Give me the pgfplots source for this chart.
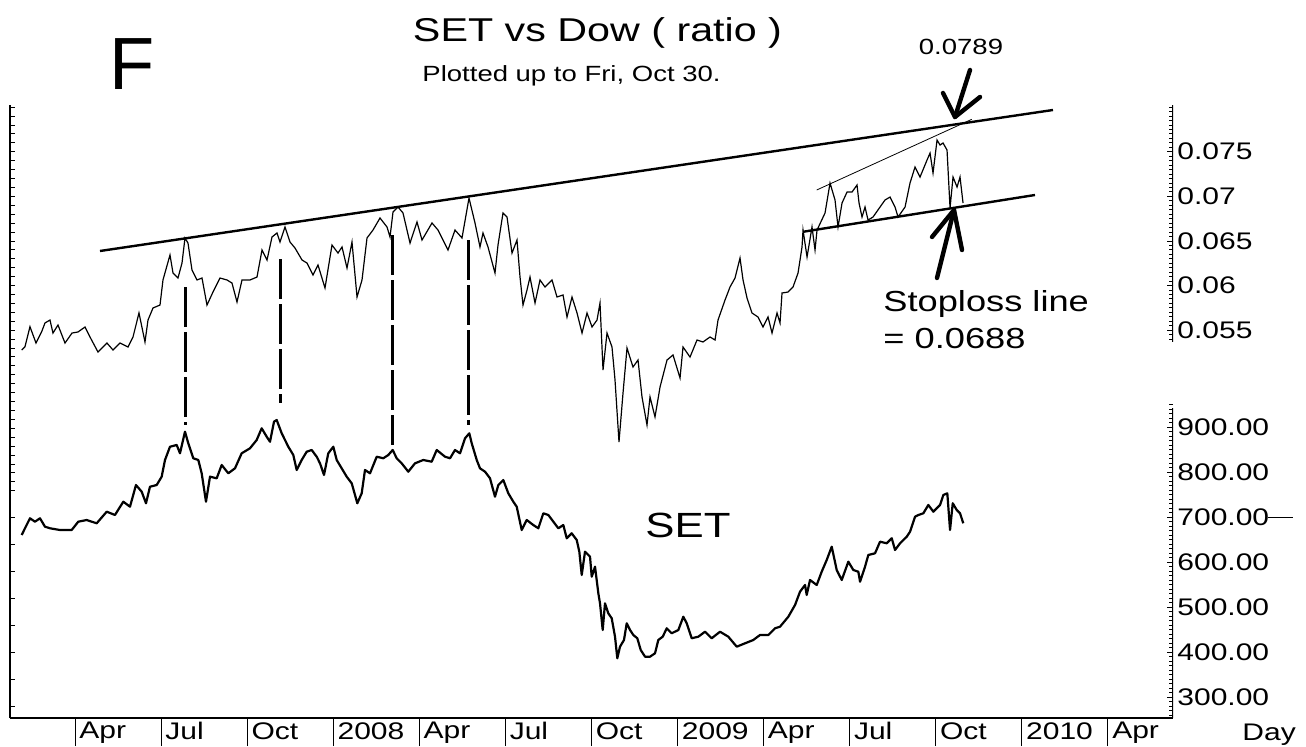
\documentclass[border=0pt]{standalone}
\usepackage{pgfplots}
\pgfplotsset{compat=1.18}
\usepackage{pgfplotstable}
\usepackage{fontspec}
\setmainfont{Liberation Sans}
\newfontfamily\wide{Liberation Sans}[FakeStretch=1.25]

% x = months since 1 Jan 2007, v = SET/Dow ratio
\pgfplotstableread{
m v
1.142 0.05277
1.257 0.05314
1.432 0.05538
1.641 0.05355
1.839 0.05482
1.954 0.05580
2.129 0.05613
2.233 0.05467
2.408 0.05557
2.652 0.05355
2.896 0.05467
3.105 0.05479
3.349 0.05535
3.523 0.05423
3.802 0.05254
4.115 0.05355
4.325 0.05277
4.569 0.05355
4.847 0.05311
5.022 0.05423
5.231 0.05692
5.440 0.05367
5.545 0.05613
5.719 0.05748
5.963 0.05781
6.067 0.06062
6.311 0.06342
6.416 0.06140
6.590 0.06084
6.730 0.06252
6.834 0.06533
6.939 0.06476
7.078 0.06174
7.252 0.06062
7.427 0.06084
7.601 0.05781
7.810 0.05927
8.054 0.06084
8.298 0.06062
8.472 0.06028
8.647 0.05815
8.821 0.06062
9.100 0.06062
9.344 0.06095
9.518 0.06398
9.693 0.06286
9.867 0.06544
10.041 0.06589
10.146 0.06488
10.320 0.06656
10.494 0.06488
10.669 0.06420
10.913 0.06286
11.087 0.06252
11.296 0.06118
11.470 0.06230
11.714 0.05972
11.958 0.06454
12.167 0.06364
12.307 0.06432
12.481 0.06196
12.655 0.06488
12.830 0.05871
13.004 0.06062
13.178 0.06533
13.387 0.06622
13.631 0.06757
13.875 0.06656
13.980 0.06544
14.084 0.06824
14.259 0.06880
14.433 0.06813
14.677 0.06476
14.921 0.06712
15.095 0.06510
15.443 0.06701
15.653 0.06622
16.001 0.06398
16.245 0.06622
16.489 0.06533
16.733 0.06981
16.942 0.06701
17.116 0.06432
17.221 0.06589
17.395 0.06432
17.639 0.06140
17.744 0.06454
17.918 0.06813
18.058 0.06768
18.232 0.06364
18.406 0.06510
18.511 0.06095
18.615 0.05781
18.755 0.05950
18.859 0.06095
19.034 0.05804
19.208 0.06062
19.382 0.05983
19.626 0.06062
19.800 0.05871
20.010 0.05894
20.149 0.05647
20.323 0.05871
20.498 0.05692
20.672 0.05467
20.846 0.05692
21.021 0.05535
21.195 0.05613
21.299 0.05804
21.404 0.05053
21.543 0.05467
21.717 0.05311
21.822 0.04941
21.961 0.04245
22.101 0.04795
22.240 0.05299
22.449 0.05086
22.624 0.05165
22.763 0.04750
22.937 0.04436
23.042 0.04750
23.216 0.04526
23.391 0.04862
23.635 0.05165
23.844 0.05221
24.088 0.04963
24.192 0.05311
24.436 0.05198
24.680 0.05389
24.889 0.05367
25.133 0.05423
25.308 0.05389
25.412 0.05613
25.656 0.05837
25.830 0.05983
26.005 0.06084
26.179 0.06308
26.284 0.06062
26.423 0.05860
26.597 0.05692
26.807 0.05647
26.981 0.05535
27.155 0.05647
27.294 0.05467
27.469 0.05692
27.573 0.05580
27.643 0.05916
27.852 0.05927
28.026 0.05983
28.201 0.06140
28.340 0.06432
28.375 0.06622
28.515 0.06320
28.688 0.06656
28.793 0.06398
28.863 0.06622
29.142 0.06813
29.316 0.07149
29.490 0.06959
29.595 0.06656
29.734 0.06925
29.909 0.07048
30.083 0.07048
30.257 0.07127
30.327 0.06925
30.431 0.06768
30.536 0.06880
30.641 0.06734
30.815 0.06768
31.059 0.06880
31.233 0.06959
31.408 0.06992
31.582 0.06880
31.687 0.06768
31.931 0.06880
32.104 0.07149
32.279 0.07329
32.453 0.07216
32.697 0.07407
32.802 0.07485
32.906 0.07261
33.046 0.07631
33.150 0.07575
33.255 0.07598
33.394 0.07519
33.499 0.06869
33.603 0.07216
33.743 0.07104
33.847 0.07216
33.952 0.06925
}\ratiotab

% x = months since 1 Jan 2007, s = SET index
\pgfplotstableread{
m s
1.142 660.0
1.257 674.9
1.432 697.1
1.606 689.6
1.780 697.1
1.954 678.5
2.129 674.9
2.477 671.1
2.885 671.1
3.115 689.6
3.408 693.3
3.757 686.0
4.105 711.8
4.394 704.5
4.684 734.0
4.917 722.9
5.126 771.1
5.325 756.2
5.475 730.5
5.614 767.3
5.848 771.1
6.022 789.6
6.137 826.7
6.311 856.2
6.545 860.0
6.660 841.6
6.834 889.6
6.949 863.8
7.124 830.5
7.298 826.7
7.416 797.1
7.566 734.0
7.706 789.6
7.939 786.0
8.113 815.6
8.344 797.1
8.577 808.2
8.810 841.6
9.100 852.7
9.333 871.1
9.507 897.1
9.682 878.4
9.797 867.3
9.936 911.8
10.030 915.6
10.205 886.0
10.435 856.2
10.609 837.8
10.727 804.5
10.902 826.7
11.076 845.1
11.250 848.9
11.425 834.0
11.540 819.3
11.679 793.4
11.829 841.6
12.003 856.2
12.122 826.7
12.296 808.2
12.470 789.6
12.645 774.9
12.760 748.9
12.840 730.5
12.993 752.7
13.108 804.5
13.283 797.1
13.516 834.0
13.746 830.5
13.920 837.8
14.073 848.9
14.213 830.5
14.387 819.3
14.617 800.7
14.851 819.3
15.140 826.7
15.433 822.9
15.607 848.9
15.897 834.0
16.071 830.5
16.245 848.9
16.420 841.6
16.594 874.9
16.744 886.0
16.828 863.8
17.002 826.7
17.116 808.2
17.291 800.7
17.465 786.0
17.639 745.1
17.755 771.1
17.929 782.2
18.103 752.7
18.277 734.0
18.396 722.9
18.570 671.1
18.744 693.3
18.975 682.2
19.149 674.9
19.323 708.2
19.497 704.5
19.672 689.6
19.846 674.9
20.020 682.2
20.139 652.7
20.313 663.8
20.487 648.9
20.578 622.9
20.662 571.1
20.776 622.9
20.951 611.8
21.010 567.3
21.125 589.6
21.241 530.5
21.299 508.2
21.393 448.9
21.473 508.2
21.588 486.0
21.707 474.9
21.822 434.0
21.902 386.0
21.996 411.8
22.135 426.7
22.230 463.8
22.345 448.9
22.460 437.8
22.599 430.5
22.718 404.5
22.868 389.6
23.042 389.6
23.216 397.1
23.331 426.7
23.485 434.0
23.624 452.7
23.798 441.6
24.029 448.9
24.203 478.4
24.321 463.8
24.495 430.5
24.725 434.0
24.959 445.1
25.192 430.5
25.482 445.1
25.771 434.0
26.064 411.8
26.353 419.3
26.643 426.7
26.876 437.8
27.166 437.8
27.399 452.7
27.573 456.2
27.863 478.4
28.097 504.5
28.270 534.0
28.445 548.9
28.503 526.7
28.619 560.0
28.852 548.9
29.026 578.4
29.201 604.5
29.375 634.0
29.549 582.2
29.724 560.0
29.954 600.7
30.128 582.2
30.303 578.4
30.362 556.2
30.536 589.6
30.651 615.6
30.884 619.3
31.059 645.1
31.292 641.6
31.467 652.7
31.582 626.7
31.756 641.6
31.990 656.2
32.104 667.3
32.279 700.7
32.394 704.5
32.568 708.2
32.742 726.7
32.917 711.8
33.150 726.7
33.265 748.9
33.404 752.7
33.499 671.1
33.593 730.5
33.732 715.6
33.847 708.2
33.962 686.0
}\settab

\pgfplotsset{
  base/.style={at={(5pt,14pt)}, anchor=south west, scale only axis,
    width=581.5pt, height=306.5pt, xmin=0.735, xmax=41.27,
    scaled y ticks=false,
    axis line style={line width=0.6pt}, tick style={black, line width=0.4pt},
    ticklabel style={font=\wide\fontsize{12}{12}\selectfont},
  },
}

\begin{document}
\begin{tikzpicture}
% left axis, upper ticks
\begin{axis}[base, ymin=0.01151, ymax=0.08024, hide x axis, axis y line*=left,
  ytick={0.037,0.038,...,0.0805}, yticklabels={}, ytick align=inside, major tick length=2.5pt]
\end{axis}
% left axis, lower ticks
\begin{axis}[base, ymin=253.3, ymax=1615.6, hide x axis, axis y line*=left,
  y axis line style={draw=none},
  ytick={280,340,...,700}, yticklabels={}, ytick align=inside, major tick length=2.5pt]
\end{axis}
% time axis
\begin{axis}[base, ymin=0, ymax=1, hide y axis, axis x line*=bottom,
  xtick={3,6,...,39},
  xticklabels={Apr,Jul,Oct,2008,Apr,Jul,Oct,2009,Apr,Jul,Oct,2010,Apr},
  xtick align=outside, major tick length=14pt,
  xticklabel style={anchor=north west, inner sep=0pt, xshift=2pt, yshift=12pt}]
\end{axis}
% SET
\begin{axis}[base, ymin=253.3, ymax=1615.6, hide x axis, axis y line*=right,
  y axis line style={draw=none},
  ytick={300,400,...,900},
  yticklabels={300.00,400.00,500.00,600.00,700.00,800.00,900.00},
  minor ytick={260,270,...,950}, ytick align=inside,
  major tick length=3pt, minor tick length=2pt,
  yticklabel style={anchor=west, inner sep=0pt, xshift=2pt}]
\addplot[black, line width=1.1pt, line join=round] table[x=m, y=s] {\settab};
\draw[line width=0.6pt] (rel axis cs:1,0) -- (rel axis cs:1,0.5057);
\end{axis}
% ratio
\begin{axis}[base, ymin=0.01151, ymax=0.08024, hide x axis, axis y line*=right,
  y axis line style={draw=none},
  ytick={0.055,0.06,0.065,0.07,0.075},
  yticklabels={0.055,0.06,0.065,0.07,0.075},
  minor ytick={0.054,0.0545,...,0.0801}, ytick align=inside,
  major tick length=3pt, minor tick length=2pt,
  yticklabel style={anchor=west, inner sep=0pt, xshift=2pt}]
\addplot[black, line width=0.6pt] table[x=m, y=v] {\ratiotab};
\draw[line width=0.6pt] (rel axis cs:1,0.6134) -- (rel axis cs:1,1);
% trend lines
\draw[line width=1.2pt] (axis cs:3.871,0.06387) -- (axis cs:37.088,0.07968);
\draw[line width=0.4pt] (axis cs:28.852,0.07071) -- (axis cs:34.254,0.07863);
\draw[line width=1.2pt] (axis cs:28.385,0.06603) -- (axis cs:36.461,0.07015);
% dashed connectors
\begin{scope}[line width=1.5pt, dash pattern=on 20pt off 2.5pt]
\draw (axis cs:6.852,0.05983) -- (axis cs:6.852,0.04436);
\draw (axis cs:10.180,0.06297) -- (axis cs:10.180,0.04683);
\draw (axis cs:14.073,0.06566) -- (axis cs:14.073,0.04212);
\draw (axis cs:16.709,0.06510) -- (axis cs:16.709,0.04436);
\end{scope}
\end{axis}

\begin{scope}[x=0.5pt, y=-0.5pt, yshift=373pt]
\node[anchor=base, inner sep=0pt, font=\wide\fontsize{16.5}{16.5}\selectfont] at (597.5,42) {SET vs Dow ( ratio )};
\node[anchor=base, inner sep=0pt, font=\wide\fontsize{11}{11}\selectfont] at (571.5,82) {Plotted up to Fri, Oct 30.};
\node[anchor=base west, inner sep=0pt, font=\fontsize{37}{37}\selectfont] at (109,90) {F};
\node[anchor=base, inner sep=0pt, font=\wide\fontsize{11}{11}\selectfont] at (961,55) {0.0789};
\node[anchor=base west, inner sep=0pt, font=\wide\fontsize{14.5}{14.5}\selectfont] at (883,311) {Stoploss line};
\node[anchor=base west, inner sep=0pt, font=\wide\fontsize{14.5}{14.5}\selectfont] at (883,348) {= 0.0688};
\node[anchor=base, inner sep=0pt, font=\wide\fontsize{17.5}{17.5}\selectfont] at (688,537) {SET};
\node[anchor=base west, inner sep=0pt, font=\wide\fontsize{12}{12}\selectfont] at (1242,740) {Day};
% arrows
\draw[line width=2.2pt, line cap=round, line join=round] (970,70) -- (955,117);
\draw[line width=2.2pt, line cap=round, line join=round] (943,93) -- (955,117) -- (980,97);
\draw[line width=2.2pt, line cap=round, line join=round] (937,278) -- (954,210);
\draw[line width=2.2pt, line cap=round, line join=round] (932,237) -- (954,210) -- (962,250);
% last-value marker
\draw[line width=0.5pt] (1268,517) -- (1293,517);
\end{scope}
\pgfresetboundingbox
\useasboundingbox (0,0) rectangle (653pt,373pt);
\end{tikzpicture}
\end{document}
